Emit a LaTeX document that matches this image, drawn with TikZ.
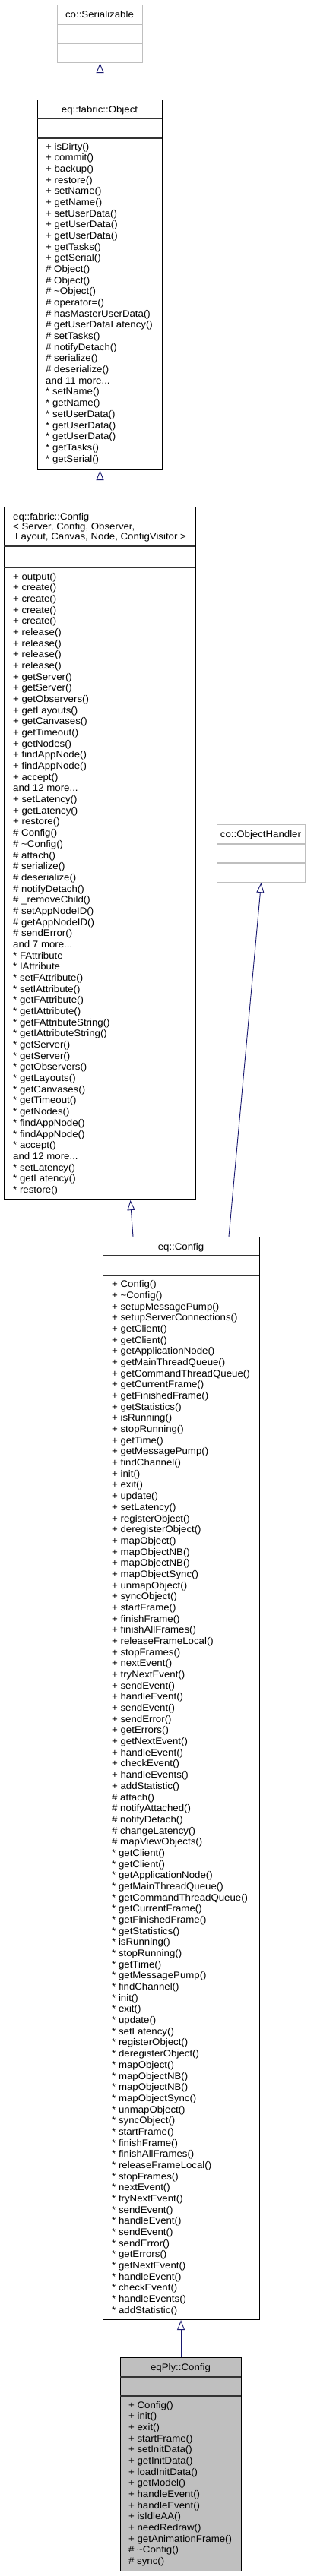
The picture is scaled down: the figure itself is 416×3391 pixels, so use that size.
\documentclass[tikz,border=0pt]{standalone}
\usepackage{fontspec}
\setmainfont{Liberation Sans}[FakeStretch=1.06]
\usetikzlibrary{arrows.meta}
\definecolor{edgec}{HTML}{191970}
\definecolor{lgray}{HTML}{BFBFBF}
\definecolor{sepc}{HTML}{333333}
\newcommand\mdots{...}
\newcommand\mainsz{\fontsize{12.5}{14.7}\selectfont}
\newcommand\tld{{\textasciitilde}}
\newcommand\memlist[4]{\foreach \t [count=\i from 0] in {#4} {\node[mem] (#1-\i) at (#2,{#3+\i*14.68+4}) {\t};}}
\tikzset{
  clsbox/.style={draw=black, line width=1.1pt, rectangle, inner sep=0pt, anchor=north west},
  gclsbox/.style={clsbox, draw=lgray},
  fclsbox/.style={clsbox, fill=lgray},
  sepline/.style={line width=1.1pt, draw=sepc},
  gsep/.style={line width=1.1pt, draw=lgray},
  ttl/.style={inner sep=0pt, anchor=base, font=\mainsz},
  ttlw/.style={inner sep=0pt, anchor=base west, font=\mainsz},
  mem/.style={inner sep=0pt, anchor=base west, font=\mainsz},
  inh/.style={draw=edgec, line width=0.9pt, -{Triangle[open, length=13pt, width=10pt]}},
}
\begin{document}
\begin{tikzpicture}[x=1pt, y=-1pt]
\fill[white] (0,0) rectangle (416,3391);
\useasboundingbox (0,0) rectangle (416,3391);

% co::Serializable
\node[gclsbox, minimum width=112pt, minimum height=76pt] (ser) at (75,6) {};
\draw[gsep] (75,32) -- (187,32);
\draw[gsep] (75,57) -- (187,57);
\node[ttl] (ser-t) at (131,23.5) {co::Serializable};

% eq::fabric::Object
\node[clsbox, minimum width=164pt, minimum height=487pt] (obj) at (49,131) {};
\draw[sepline] (49,156) -- (213,156);
\draw[sepline] (49,182) -- (213,182);
\node[ttl] (obj-t) at (131,148) {eq::fabric::Object};
\memlist{obj}{60}{193}{+ isDirty(), + commit(), + backup(), + restore(), + setName(), + getName(), + setUserData(), + getUserData(), + getUserData(), + getTasks(), + getSerial(), \# Object(), \# Object(), \# \tld Object(), \# operator=(), \# hasMasterUserData(), \# getUserDataLatency(), \# setTasks(), \# notifyDetach(), \# serialize(), \# deserialize(), and 11 more\mdots, * setName(), * getName(), * setUserData(), * getUserData(), * getUserData(), * getTasks(), * getSerial()}

% eq::fabric::Config
\node[clsbox, minimum width=252pt, minimum height=912pt] (fc) at (5,667) {};
\draw[sepline] (5,719) -- (257,719);
\draw[sepline] (5,747) -- (257,747);
\node[ttlw] (fc-t1) at (17,684) {eq::fabric::Config};
\node[ttlw] (fc-t2) at (17,697) {< Server, Config, Observer,};
\node[ttlw] (fc-t3) at (20,710) {Layout, Canvas, Node, ConfigVisitor >};
\memlist{fc}{17}{759}{+ output(), + create(), + create(), + create(), + create(), + release(), + release(), + release(), + release(), + getServer(), + getServer(), + getObservers(), + getLayouts(), + getCanvases(), + getTimeout(), + getNodes(), + findAppNode(), + findAppNode(), + accept(), and 12 more\mdots, + setLatency(), + getLatency(), + restore(), \# Config(), \# \tld Config(), \# attach(), \# serialize(), \# deserialize(), \# notifyDetach(), \# \_removeChild(), \# setAppNodeID(), \# getAppNodeID(), \# sendError(), and 7 more\mdots, * FAttribute, * IAttribute, * setFAttribute(), * setIAttribute(), * getFAttribute(), * getIAttribute(), * getFAttributeString(), * getIAttributeString(), * getServer(), * getServer(), * getObservers(), * getLayouts(), * getCanvases(), * getTimeout(), * getNodes(), * findAppNode(), * findAppNode(), * accept(), and 12 more\mdots, * setLatency(), * getLatency(), * restore()}

% co::ObjectHandler
\node[gclsbox, minimum width=116pt, minimum height=76pt] (oh) at (285,1085) {};
\draw[gsep] (285,1111) -- (401,1111);
\draw[gsep] (285,1136) -- (401,1136);
\node[ttl] (oh-t) at (343,1102.5) {co::ObjectHandler};

% eq::Config
\node[clsbox, minimum width=206pt, minimum height=1425pt] (eqc) at (135,1628) {};
\draw[sepline] (135,1653) -- (341,1653);
\draw[sepline] (135,1679) -- (341,1679);
\node[ttl] (eqc-t) at (238,1645) {eq::Config};
\memlist{eqc}{147}{1690.7}{+ Config(), + \tld Config(), + setupMessagePump(), + setupServerConnections(), + getClient(), + getClient(), + getApplicationNode(), + getMainThreadQueue(), + getCommandThreadQueue(), + getCurrentFrame(), + getFinishedFrame(), + getStatistics(), + isRunning(), + stopRunning(), + getTime(), + getMessagePump(), + findChannel(), + init(), + exit(), + update(), + setLatency(), + registerObject(), + deregisterObject(), + mapObject(), + mapObjectNB(), + mapObjectNB(), + mapObjectSync(), + unmapObject(), + syncObject(), + startFrame(), + finishFrame(), + finishAllFrames(), + releaseFrameLocal(), + stopFrames(), + nextEvent(), + tryNextEvent(), + sendEvent(), + handleEvent(), + sendEvent(), + sendError(), + getErrors(), + getNextEvent(), + handleEvent(), + checkEvent(), + handleEvents(), + addStatistic(), \# attach(), \# notifyAttached(), \# notifyDetach(), \# changeLatency(), \# mapViewObjects(), * getClient(), * getClient(), * getApplicationNode(), * getMainThreadQueue(), * getCommandThreadQueue(), * getCurrentFrame(), * getFinishedFrame(), * getStatistics(), * isRunning(), * stopRunning(), * getTime(), * getMessagePump(), * findChannel(), * init(), * exit(), * update(), * setLatency(), * registerObject(), * deregisterObject(), * mapObject(), * mapObjectNB(), * mapObjectNB(), * mapObjectSync(), * unmapObject(), * syncObject(), * startFrame(), * finishFrame(), * finishAllFrames(), * releaseFrameLocal(), * stopFrames(), * nextEvent(), * tryNextEvent(), * sendEvent(), * handleEvent(), * sendEvent(), * sendError(), * getErrors(), * getNextEvent(), * handleEvent(), * checkEvent(), * handleEvents(), * addStatistic()}

% eqPly::Config
\node[fclsbox, minimum width=159pt, minimum height=281pt] (ply) at (158,3103) {};
\draw[sepline] (158,3129) -- (317,3129);
\draw[sepline] (158,3154) -- (317,3154);
\node[ttl] (ply-t) at (237.5,3120.5) {eqPly::Config};
\memlist{ply}{169}{3166}{+ Config(), + init(), + exit(), + startFrame(), + setInitData(), + getInitData(), + loadInitData(), + getModel(), + handleEvent(), + handleEvent(), + isIdleAA(), + needRedraw(), + getAnimationFrame(), \# \tld Config(), \# sync()}

% inheritance connectors
\draw[inh] (obj.north) -- (ser.south);
\draw[inh] (fc.north) -- (obj.south);
\draw[inh] ([xshift=40pt]eqc.north west) -- ([xshift=166.5pt]fc.south west);
\draw[inh] ([xshift=166pt]eqc.north west) -- (oh.south);
\draw[inh] (ply.north) -- (ply.north |- eqc.south);
\end{tikzpicture}
\end{document}
